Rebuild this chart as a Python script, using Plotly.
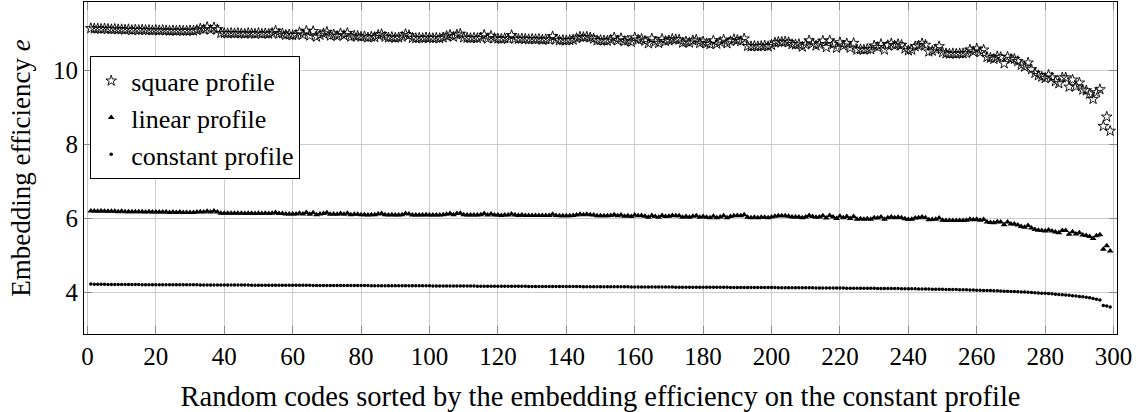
import plotly.graph_objects as go

square_profile = [
    11.13, 11.12, 11.12, 11.11, 11.12, 11.11, 11.10, 11.11, 11.10, 11.10,
    11.09, 11.10, 11.08, 11.09, 11.08, 11.09, 11.08, 11.08, 11.07, 11.08,
    11.07, 11.08, 11.07, 11.06, 11.07, 11.06, 11.07, 11.06, 11.06, 11.07,
    11.06, 11.08, 11.12, 11.10, 11.16, 11.09, 11.15, 11.10, 11.00, 11.00,
    10.99, 11.00, 10.99, 11.00, 10.99, 10.98, 11.00, 10.99, 10.98, 11.00,
    10.98, 10.99, 10.98, 11.00, 11.06, 10.98, 10.99, 10.95, 10.96, 10.94,
    10.95, 11.02, 10.96, 11.06, 10.93, 11.05, 10.90, 10.95, 10.99, 11.03,
    10.93, 10.96, 10.92, 10.99, 10.94, 11.00, 10.90, 10.93, 10.92, 10.90,
    10.91, 10.88, 10.90, 10.89, 10.95, 10.97, 10.90, 10.88, 10.89, 10.87,
    10.88, 10.90, 10.97, 10.94, 10.87, 10.86, 10.87, 10.86, 10.88, 10.87,
    10.86, 10.87, 10.86, 10.88, 10.92, 10.95, 10.90, 10.96, 10.98, 10.88,
    10.87, 10.86, 10.87, 10.86, 10.88, 10.95, 10.85, 10.92, 10.86, 10.85,
    10.84, 10.86, 10.85, 10.94, 10.85, 10.84, 10.85, 10.84, 10.83, 10.84,
    10.83, 10.84, 10.82, 10.83, 10.82, 10.91, 10.83, 10.80, 10.81, 10.80,
    10.81, 10.82, 10.86, 10.90, 10.89, 10.90, 10.88, 10.85, 10.80,
    10.81, 10.80, 10.79, 10.82, 10.88, 10.80, 10.86, 10.78, 10.80, 10.76,
    10.88, 10.82, 10.84, 10.79, 10.72, 10.85, 10.77, 10.73, 10.84, 10.78,
    10.80, 10.84, 10.83, 10.82, 10.74, 10.77, 10.74, 10.80, 10.82, 10.73,
    10.77, 10.72, 10.70, 10.80, 10.71, 10.76, 10.82, 10.72, 10.78, 10.83,
    10.81, 10.78, 10.85, 10.65, 10.64, 10.65, 10.64, 10.65, 10.66, 10.64,
    10.68, 10.74, 10.76, 10.76, 10.77, 10.75, 10.70, 10.69, 10.70, 10.63,
    10.69, 10.80, 10.72, 10.66, 10.70, 10.79, 10.62, 10.80, 10.70, 10.60,
    10.75, 10.66, 10.72, 10.60, 10.73, 10.55, 10.56, 10.55, 10.57, 10.56,
    10.66, 10.62, 10.70, 10.55, 10.67, 10.72, 10.66, 10.70, 10.68, 10.58,
    10.53, 10.55, 10.64, 10.66, 10.72, 10.68, 10.50, 10.52, 10.56, 10.64,
    10.48, 10.45, 10.44, 10.45, 10.44, 10.45, 10.45, 10.46, 10.55, 10.50,
    10.58, 10.48, 10.55, 10.35, 10.33, 10.30, 10.37, 10.35, 10.18, 10.36,
    10.30, 10.30, 10.24, 10.14, 10.09, 10.20, 10.02, 9.92, 9.86, 9.82,
    9.78, 9.87, 9.80, 9.70, 9.64, 9.80, 9.80, 9.55, 9.74, 9.56,
    9.66, 9.47, 9.45, 9.36, 9.22, 9.40, 9.48, 8.49, 8.74, 8.36,
]

linear_profile = [
    6.20, 6.20, 6.19, 6.20, 6.19, 6.19, 6.19, 6.19, 6.18, 6.19,
    6.18, 6.18, 6.18, 6.18, 6.18, 6.18, 6.17, 6.18, 6.17, 6.17,
    6.17, 6.17, 6.17, 6.16, 6.17, 6.16, 6.17, 6.16, 6.16, 6.16,
    6.16, 6.17, 6.18, 6.17, 6.19, 6.17, 6.20, 6.17, 6.14, 6.14,
    6.14, 6.14, 6.14, 6.14, 6.14, 6.13, 6.14, 6.14, 6.13, 6.14,
    6.13, 6.14, 6.13, 6.14, 6.16, 6.13, 6.13, 6.12, 6.12, 6.12,
    6.12, 6.14, 6.12, 6.16, 6.11, 6.15, 6.10, 6.12, 6.13, 6.15,
    6.11, 6.12, 6.11, 6.13, 6.11, 6.14, 6.10, 6.11, 6.11, 6.10,
    6.10, 6.09, 6.10, 6.10, 6.12, 6.13, 6.10, 6.09, 6.10, 6.09,
    6.09, 6.10, 6.13, 6.12, 6.09, 6.09, 6.09, 6.09, 6.10, 6.09,
    6.09, 6.09, 6.09, 6.10, 6.11, 6.13, 6.10, 6.13, 6.14, 6.10,
    6.09, 6.09, 6.09, 6.09, 6.10, 6.13, 6.09, 6.12, 6.09, 6.09,
    6.08, 6.09, 6.09, 6.12, 6.09, 6.08, 6.09, 6.08, 6.08, 6.08,
    6.08, 6.08, 6.08, 6.08, 6.08, 6.11, 6.08, 6.07, 6.07, 6.07,
    6.07, 6.08, 6.09, 6.11, 6.10, 6.11, 6.10, 6.09, 6.07,
    6.07, 6.07, 6.07, 6.08, 6.10, 6.07, 6.09, 6.06, 6.07, 6.05,
    6.09, 6.07, 6.08, 6.06, 6.03, 6.08, 6.05, 6.03, 6.08, 6.05,
    6.06, 6.08, 6.07, 6.07, 6.03, 6.05, 6.03, 6.06, 6.07, 6.03,
    6.05, 6.03, 6.02, 6.06, 6.02, 6.04, 6.07, 6.02, 6.05, 6.07,
    6.08, 6.07, 6.10, 6.03, 6.02, 6.03, 6.02, 6.03, 6.03, 6.02,
    6.04, 6.06, 6.07, 6.07, 6.07, 6.06, 6.04, 6.04, 6.04, 6.02,
    6.04, 6.08, 6.05, 6.03, 6.04, 6.07, 6.01, 6.08, 6.04, 6.00,
    6.06, 6.02, 6.05, 6.00, 6.05, 5.98, 5.99, 5.98, 5.99, 5.98,
    6.02, 6.01, 6.04, 5.98, 6.02, 6.04, 6.02, 6.03, 6.02, 5.99,
    5.97, 5.98, 6.01, 6.02, 6.04, 6.02, 5.96, 5.97, 5.98, 6.01,
    5.95, 5.94, 5.94, 5.94, 5.94, 5.94, 5.94, 5.95, 5.98, 5.96,
    5.98, 5.95, 5.97, 5.90, 5.89, 5.88, 5.91, 5.90, 5.83, 5.90,
    5.85, 5.85, 5.82, 5.78, 5.76, 5.81, 5.74, 5.70, 5.68, 5.67,
    5.66, 5.69, 5.66, 5.63, 5.61, 5.67, 5.67, 5.57, 5.64, 5.58,
    5.61, 5.55, 5.54, 5.51, 5.46, 5.53, 5.56, 5.17, 5.26, 5.12,
]

constant_profile = [
    4.230, 4.226, 4.223, 4.221, 4.220, 4.219, 4.218, 4.217, 4.216, 4.215,
    4.215, 4.214, 4.214, 4.213, 4.213, 4.212, 4.212, 4.211, 4.211, 4.211,
    4.210, 4.210, 4.209, 4.209, 4.209, 4.208, 4.208, 4.207, 4.207, 4.207,
    4.206, 4.206, 4.205, 4.205, 4.205, 4.204, 4.204, 4.203, 4.203, 4.203,
    4.202, 4.202, 4.201, 4.201, 4.201, 4.200, 4.200, 4.199, 4.199, 4.199,
    4.198, 4.198, 4.197, 4.197, 4.197, 4.196, 4.196, 4.195, 4.195, 4.195,
    4.194, 4.194, 4.193, 4.193, 4.193, 4.192, 4.192, 4.191, 4.191, 4.191,
    4.190, 4.190, 4.189, 4.189, 4.189, 4.188, 4.188, 4.187, 4.187, 4.187,
    4.186, 4.186, 4.185, 4.185, 4.185, 4.184, 4.184, 4.183, 4.183, 4.183,
    4.182, 4.182, 4.181, 4.181, 4.181, 4.180, 4.180, 4.179, 4.179, 4.179,
    4.178, 4.178, 4.177, 4.177, 4.176, 4.176, 4.175, 4.175, 4.175, 4.174,
    4.174, 4.173, 4.173, 4.172, 4.172, 4.171, 4.171, 4.170, 4.170, 4.170,
    4.169, 4.169, 4.168, 4.168, 4.167, 4.167, 4.166, 4.166, 4.165, 4.165,
    4.164, 4.164, 4.164, 4.163, 4.163, 4.162, 4.162, 4.161, 4.161, 4.160,
    4.160, 4.159, 4.159, 4.159, 4.158, 4.158, 4.157, 4.157, 4.156,
    4.155, 4.155, 4.154, 4.154, 4.154, 4.153, 4.153, 4.152, 4.152, 4.151,
    4.151, 4.150, 4.150, 4.149, 4.149, 4.149, 4.148, 4.148, 4.147, 4.147,
    4.146, 4.146, 4.145, 4.145, 4.144, 4.144, 4.144, 4.143, 4.143, 4.142,
    4.142, 4.141, 4.141, 4.140, 4.140, 4.139, 4.139, 4.139, 4.138, 4.138,
    4.137, 4.137, 4.136, 4.136, 4.135, 4.135, 4.134, 4.134, 4.133, 4.133,
    4.132, 4.132, 4.131, 4.130, 4.130, 4.129, 4.129, 4.128, 4.127, 4.127,
    4.126, 4.126, 4.125, 4.124, 4.124, 4.123, 4.122, 4.122, 4.121, 4.120,
    4.120, 4.119, 4.118, 4.118, 4.117, 4.116, 4.115, 4.115, 4.114, 4.113,
    4.112, 4.111, 4.110, 4.109, 4.108, 4.107, 4.106, 4.105, 4.104, 4.103,
    4.101, 4.100, 4.099, 4.097, 4.096, 4.094, 4.093, 4.091, 4.089, 4.088,
    4.086, 4.084, 4.082, 4.080, 4.078, 4.076, 4.074, 4.071, 4.069, 4.066,
    4.063, 4.060, 4.057, 4.054, 4.051, 4.048, 4.044, 4.041, 4.037, 4.033,
    4.029, 4.025, 4.020, 4.016, 4.011, 4.006, 4.001, 3.995, 3.989, 3.983,
    3.977, 3.970, 3.963, 3.956, 3.948, 3.940, 3.932, 3.923, 3.914, 3.904,
    3.893, 3.882, 3.869, 3.855, 3.839, 3.820, 3.795, 3.652, 3.634, 3.612,
]

x_ticks = list(range(0, 301, 20))
y_ticks = [4, 6, 8, 10]

codes = list(range(1, len(square_profile) + 1))

FONT = "'Liberation Serif', 'Times New Roman', serif"

fig = go.Figure()
fig.add_trace(go.Scatter(
    x=codes, y=square_profile, mode="markers", name="square profile",
    marker=dict(symbol="star-open", size=8, color="black", line=dict(width=0.9, color="black")),
))
fig.add_trace(go.Scatter(
    x=codes, y=linear_profile, mode="markers", name="linear profile",
    marker=dict(symbol="triangle-up", size=6, color="black", line=dict(width=0)),
))
fig.add_trace(go.Scatter(
    x=codes, y=constant_profile, mode="markers", name="constant profile",
    marker=dict(symbol="circle", size=3.5, color="black", line=dict(width=0)),
))

axis_common = dict(
    showline=True, linecolor="black", linewidth=1, mirror="allticks",
    ticks="inside", ticklen=8, tickcolor="#8a8a8a", tickwidth=1,
    showgrid=True, gridcolor="#cccccc", gridwidth=1, zeroline=False,
    tickfont=dict(family=FONT, size=25, color="black"),
    automargin=False,
)

fig.update_layout(
    width=1145, height=412,
    margin=dict(l=84, r=28, t=2, b=78),
    paper_bgcolor="white", plot_bgcolor="white",
    font=dict(family=FONT, size=25, color="black"),
    showlegend=True,
    legend=dict(
        x=0.006, y=0.651, xanchor="left", yanchor="middle",
        bgcolor="white", bordercolor="black", borderwidth=1,
        font=dict(family=FONT, size=26, color="black"),
        tracegroupgap=0, itemwidth=30,
    ),
    xaxis=dict(
        range=[-1, 301], tickvals=x_ticks,
        title=dict(text="Random codes sorted by the embedding efficiency on the constant profile",
                   font=dict(family=FONT, size=28.5), standoff=18),
        **axis_common,
    ),
    yaxis=dict(
        range=[2.88, 11.84], tickvals=y_ticks,
        title=dict(text="Embedding efficiency <i>e</i>", font=dict(family=FONT, size=27), standoff=14),
        **axis_common,
    ),
)

fig.write_html("out.html")
